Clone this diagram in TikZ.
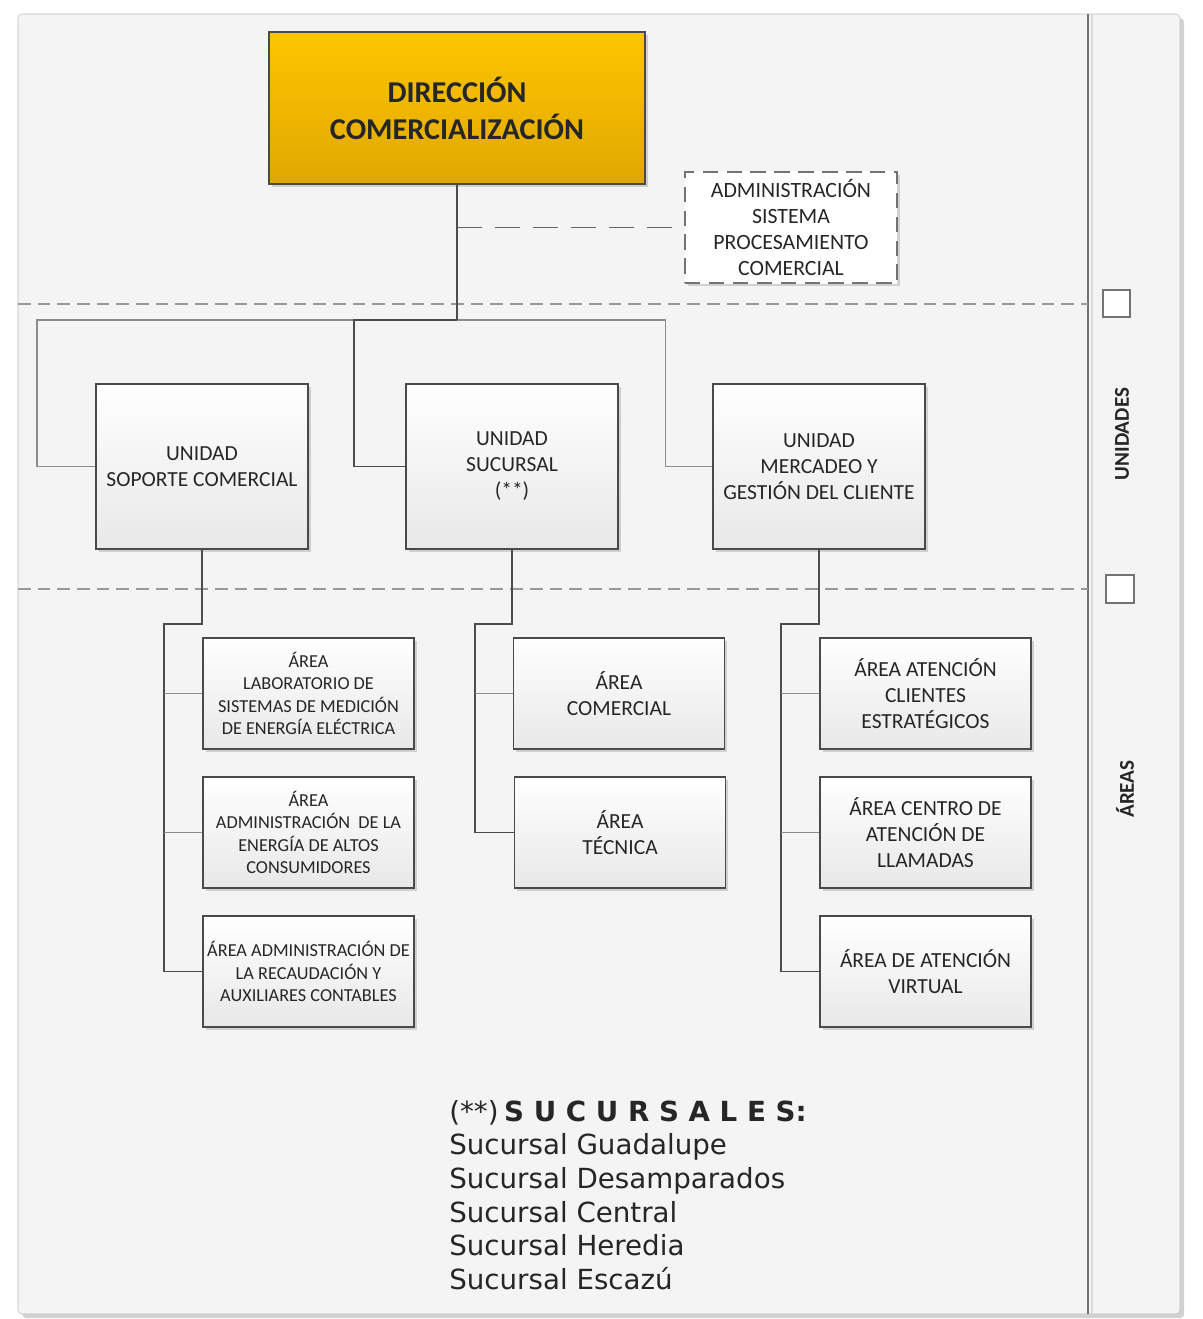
\documentclass[tikz,border=0pt]{standalone}
\usepackage{fontspec}
\setmainfont{Carlito}
\newfontfamily\legendfont{DejaVu Sans}
\usetikzlibrary{shadows}
\definecolor{panel}{HTML}{F4F4F4}
\definecolor{boxline}{HTML}{4A4A4A}
\definecolor{goldtop}{HTML}{FDC500}
\definecolor{goldbot}{HTML}{E0A800}
\definecolor{ink}{HTML}{262626}

\begin{document}
\begin{tikzpicture}[x=0.025cm,y=-0.025cm,
    orgbox/.style={draw=boxline,line width=1pt,top color=white,bottom color=black!9,
      text=ink,align=center,inner sep=2pt,
      drop shadow={shadow xshift=2pt,shadow yshift=-2pt,opacity=.25,fill=black!60}},
    unitbox/.style={orgbox,minimum width=5.3cm,minimum height=4.125cm,font=\fontsize{15.3}{18.5}\selectfont},
    areabox/.style={orgbox,minimum width=5.275cm,minimum height=2.775cm,font=\fontsize{15.3}{18.5}\selectfont},
    smallarea/.style={areabox,font=\fontsize{13}{16}\selectfont},
    trunk/.style={draw=black!70,line width=1.3pt},
    branch/.style={draw=black!45,line width=1.1pt},
    lane/.style={draw=black!40,line width=1pt,dash pattern=on 9pt off 5pt}]
  \useasboundingbox (0,0) rectangle (1202,1319);
  \fill[white] (0,0) rectangle (1202,1319);

  \filldraw[fill=panel,draw=black!25,rounded corners=3pt,
    drop shadow={shadow xshift=3pt,shadow yshift=-3pt,opacity=.35}] (18,14) rectangle (1180,1314);
  \draw[black!55,line width=1.5pt] (1088,14) -- (1088,1314);
  \draw[black!15,line width=1pt] (1092,14) -- (1092,1314);
  \draw[lane] (18,304) -- (1088,304);
  \draw[lane] (18,589) -- (1088,589);
  \draw[fill=white,draw=black!55,line width=1pt] (1103,290) rectangle (1130,317);
  \draw[fill=white,draw=black!55,line width=1pt] (1106,575) rectangle (1134,603);
  \node[rotate=90,text=ink,font=\bfseries\fontsize{15}{18}\selectfont] (lunidades) at (1122,434) {UNIDADES};
  \node[rotate=90,text=ink,font=\bfseries\fontsize{15}{18}\selectfont] (lareas) at (1125,789) {ÁREAS};

  \node[orgbox,top color=goldtop,bottom color=goldbot,minimum width=9.4cm,minimum height=3.8cm,
    text=black!85,font=\bfseries\fontsize{21.5}{26.3}\selectfont] (dir) at (457,108) {DIRECCIÓN\\COMERCIALIZACIÓN};
  \node[orgbox,top color=white,bottom color=white,draw=black!55,dash pattern=on 11pt off 6pt,
    minimum width=5.3cm,minimum height=2.775cm,font=\fontsize{15.5}{18.5}\selectfont] (adm) at (791,227.5)
    {ADMINISTRACIÓN\\SISTEMA\\PROCESAMIENTO\\COMERCIAL};

  \node[unitbox] (usc) at (202,466.5) {UNIDAD\\SOPORTE COMERCIAL};
  \node[unitbox] (usu) at (512,466.5) {UNIDAD\\SUCURSAL\\(**)};
  \node[unitbox] (umg) at (819,466.5) {UNIDAD\\MERCADEO Y\\GESTIÓN DEL CLIENTE};

  \node[smallarea] (lab) at (308.5,693.5) {ÁREA\\LABORATORIO DE\\SISTEMAS DE MEDICIÓN\\DE ENERGÍA ELÉCTRICA};
  \node[smallarea] (alt) at (308.5,832.5) {ÁREA\\ADMINISTRACIÓN~ DE LA\\ENERGÍA DE ALTOS\\CONSUMIDORES};
  \node[smallarea] (rec) at (308.5,971.5) {ÁREA ADMINISTRACIÓN DE\\LA RECAUDACIÓN Y\\AUXILIARES CONTABLES};
  \node[areabox] (com) at (619,693.5) {ÁREA\\COMERCIAL};
  \node[areabox] (tec) at (620,832.5) {ÁREA\\TÉCNICA};
  \node[areabox] (est) at (925.5,693.5) {ÁREA ATENCIÓN\\CLIENTES\\ESTRATÉGICOS};
  \node[areabox] (lla) at (925.5,832.5) {ÁREA CENTRO DE\\ATENCIÓN DE\\LLAMADAS};
  \node[areabox] (vir) at (925.5,971.5) {ÁREA DE ATENCIÓN\\VIRTUAL};

  \coordinate (bus) at (457,320);
  \draw[branch] (usc.west) -- ++(-58,0) |- (bus);
  \draw[branch] (umg.west) -- ++(-47,0) |- (bus);
  \draw[trunk] (usu.west) -- ++(-51,0) |- (bus);
  \draw[trunk] (dir.south) -- (bus);
  \draw[black!60,line width=1.1pt,dash pattern=on 18pt off 9pt] (dir.south |- adm.west) -- (adm.west);

  \coordinate (sp1) at (164,624);
  \coordinate (sp2) at (475,624);
  \coordinate (sp3) at (781,624);
  \draw[trunk] (usc.south) |- (sp1) |- (rec.west);
  \draw[trunk] (usu.south) |- (sp2) |- (tec.west);
  \draw[trunk] (umg.south) |- (sp3) |- (vir.west);
  \foreach \a/\s in {lab/sp1,alt/sp1,com/sp2,est/sp3,lla/sp3}
    \draw[branch] (\s |- \a.west) -- (\a.west);

  \node[anchor=north west,align=left,inner sep=0pt,text=black!85,
    font=\legendfont\fontsize{19.7}{23.9}\selectfont] (leg) at (449,1100)
    {(**)\hspace{4pt}\textbf{S U C U R S A L E S:}\\Sucursal Guadalupe\\Sucursal Desamparados\\Sucursal Central\\Sucursal Heredia\\Sucursal Escazú};
\end{tikzpicture}
\end{document}
